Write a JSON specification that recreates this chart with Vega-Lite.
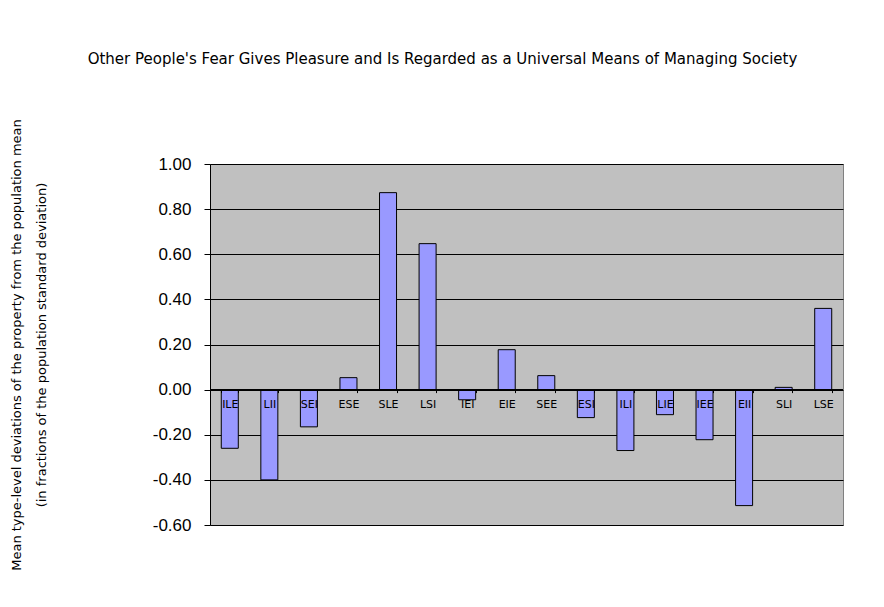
{
  "$schema": "https://vega.github.io/schema/vega-lite/v6.json",
  "autosize": {"type": "none"},
  "width": 633,
  "height": 361,
  "padding": {"left": 210, "top": 164, "right": 41, "bottom": 82},
  "background": "white",
  "title": {
    "text": "Other People's Fear Gives Pleasure and Is Regarded as a Universal Means of Managing Society",
    "font": "DejaVu Sans",
    "fontSize": 15,
    "fontWeight": "normal",
    "color": "black",
    "anchor": "middle",
    "frame": "group",
    "dx": -84,
    "offset": 52
  },
  "config": {
    "view": {"fill": "#C0C0C0", "stroke": "#808080", "strokeWidth": 1}
  },
  "data": {
    "values": [
      {"type": "ILE", "value": -0.26},
      {"type": "LII", "value": -0.40},
      {"type": "SEI", "value": -0.165},
      {"type": "ESE", "value": 0.053},
      {"type": "SLE", "value": 0.873},
      {"type": "LSI", "value": 0.647},
      {"type": "IEI", "value": -0.045},
      {"type": "EIE", "value": 0.177},
      {"type": "SEE", "value": 0.062},
      {"type": "ESI", "value": -0.124},
      {"type": "ILI", "value": -0.27},
      {"type": "LIE", "value": -0.111},
      {"type": "IEE", "value": -0.222},
      {"type": "EII", "value": -0.514},
      {"type": "SLI", "value": 0.01},
      {"type": "LSE", "value": 0.36}
    ]
  },
  "layer": [
    {
      "mark": {"type": "bar", "fill": "#9999FF", "stroke": "black", "strokeWidth": 1},
      "encoding": {
        "x": {
          "field": "type",
          "type": "nominal",
          "sort": null,
          "scale": {"paddingInner": 0.57, "paddingOuter": 0.285},
          "axis": {
            "title": null,
            "orient": "bottom",
            "offset": -135.4,
            "domain": false,
            "grid": false,
            "tickBand": "extent",
            "ticks": true,
            "tickSize": 3,
            "tickColor": "black",
            "labelAngle": 0,
            "labelFont": "DejaVu Sans",
            "labelFontSize": 11,
            "labelColor": "black",
            "labelBaseline": "top",
            "labelPadding": 6,
            "zindex": 1
          }
        },
        "y": {
          "field": "value",
          "type": "quantitative",
          "scale": {"domain": [-0.6, 1.0], "nice": false, "zero": false},
          "axis": {
            "values": [-0.6, -0.4, -0.2, 0, 0.2, 0.4, 0.6, 0.8, 1.0],
            "labelExpr": "replace(format(datum.value, '.2f'), '\u2212', '-')",
            "grid": true,
            "gridColor": "black",
            "gridOpacity": 1,
            "gridWidth": 1,
            "domain": true,
            "domainColor": "black",
            "domainWidth": 1,
            "ticks": true,
            "tickSize": 6,
            "tickColor": "black",
            "labelFont": "Liberation Sans",
            "labelFontSize": 17,
            "labelColor": "black",
            "labelPadding": 13,
            "title": ["Mean type-level deviations of the property from the population mean", "(in fractions of the population standard deviation)"],
            "titleFont": "DejaVu Sans",
            "titleFontSize": 13,
            "titleFontWeight": "normal",
            "titleColor": "black",
            "titleAngle": -90,
            "titleAlign": "center",
            "titleBaseline": "top",
            "titleLineHeight": 25,
            "titleX": -200,
            "titleY": 180.5
          }
        }
      }
    },
    {
      "mark": {"type": "rule", "color": "black", "strokeWidth": 1.5},
      "encoding": {"y": {"datum": 0}}
    }
  ]
}
